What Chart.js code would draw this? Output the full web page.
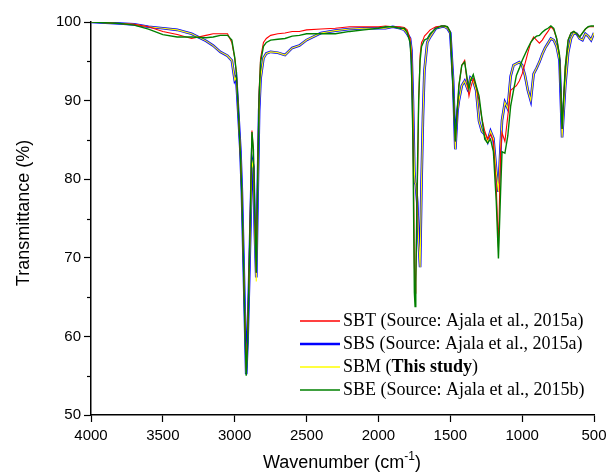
<!DOCTYPE html>
<html>
<head>
<meta charset="utf-8">
<script src="https://cdn.jsdelivr.net/npm/chart.js@4.4.1/dist/chart.umd.min.js"></script>
<style>
  body { margin: 0; background: #fff; }
  #wrap { width: 606px; height: 475px; }
</style>
</head>
<body>
<div id="wrap"><canvas id="ftir" width="606" height="475"></canvas></div>
<script>
// wavenumber grid (cm-1) shared by all four spectra
const wavenumbers = [4000, 3900, 3800, 3700, 3600, 3500, 3400, 3300, 3200, 3150, 3100, 3050, 3020, 3000, 2990, 2980, 2970, 2960, 2950, 2940,
  2930, 2920, 2910, 2900, 2890, 2880, 2870, 2860, 2850, 2840, 2830, 2820, 2800, 2780, 2750, 2700, 2650, 2600, 2550, 2500,
  2400, 2300, 2200, 2100, 2000, 1950, 1900, 1850, 1820, 1800, 1780, 1770, 1760, 1750, 1745, 1740, 1730, 1720, 1710, 1700,
  1690, 1680, 1660, 1640, 1600, 1560, 1540, 1520, 1500, 1480, 1465, 1450, 1440, 1420, 1400, 1380, 1370, 1360, 1340, 1320,
  1300, 1280, 1260, 1240, 1220, 1200, 1180, 1165, 1150, 1140, 1120, 1100, 1080, 1060, 1040, 1020, 1000, 980, 960, 940,
  920, 900, 880, 860, 840, 820, 800, 780, 760, 740, 722, 700, 680, 660, 640, 620, 600, 580, 560, 540, 520, 500];

// transmittance (%)
const sbt = [100.0, 99.9, 99.8, 99.7, 99.4, 98.8, 98.4, 97.9, 98.3, 98.5, 98.5, 98.5, 97.4, 95.4, 93.8, 90.6, 86.8, 82.9, 77.8, 70.1,
  62.3, 55.9, 60.4, 68.8, 77.1, 86.2, 83.5, 74.5, 68.1, 81.0, 91.3, 95.4, 97.4, 97.9, 98.3, 98.5, 98.6, 98.8, 98.8, 99.0,
  99.1, 99.2, 99.4, 99.4, 99.4, 99.5, 99.4, 99.4, 99.3, 99.0, 97.9, 95.8, 87.4, 69.4, 65.5, 67.5, 77.1, 90.0, 95.8, 97.4,
  97.7, 98.2, 98.6, 99.0, 99.4, 99.5, 99.5, 99.4, 98.7, 91.3, 84.8, 88.7, 91.9, 94.5, 95.1, 91.9, 90.6, 91.5, 92.8, 91.8,
  90.0, 87.7, 86.1, 85.1, 85.7, 84.8, 79.0, 71.3, 83.5, 85.9, 84.8, 88.0, 91.3, 91.6, 91.9, 92.5, 93.4, 94.7, 96.1, 97.4,
  98.1, 97.7, 97.3, 97.7, 98.3, 98.8, 99.4, 99.0, 97.9, 95.8, 86.4, 94.3, 97.7, 98.6, 98.8, 98.5, 98.1, 98.6, 99.1, 99.4, 99.4, 99.4];

const sbs = [100.0, 99.9, 99.8, 99.7, 99.4, 99.2, 99.0, 98.5, 97.6, 97.0, 96.2, 95.7, 95.1, 92.6, 93.0, 90.0, 86.8, 83.5, 78.4, 70.7,
  63.0, 55.2, 59.8, 66.8, 74.5, 82.5, 81.6, 73.3, 67.5, 78.4, 88.7, 92.8, 95.4, 96.0, 96.2, 96.1, 95.8, 96.7, 97.0, 97.7,
  98.6, 98.9, 99.1, 99.2, 99.2, 99.2, 99.4, 99.2, 99.0, 98.5, 97.9, 96.4, 90.0, 81.0, 79.5, 79.4, 77.1, 72.0, 68.8, 79.7,
  88.0, 93.8, 97.4, 98.1, 99.2, 99.4, 99.4, 99.2, 98.6, 92.5, 83.8, 88.7, 90.0, 91.9, 92.5, 91.5, 92.0, 92.9, 92.5, 91.3,
  87.4, 86.1, 85.7, 84.8, 86.1, 85.2, 81.0, 78.4, 84.2, 87.5, 89.8, 89.0, 93.1, 94.5, 94.7, 94.9, 94.5, 93.2, 91.3, 90.0,
  93.4, 94.1, 94.9, 95.9, 96.7, 97.3, 97.9, 97.7, 96.9, 95.1, 85.3, 91.9, 96.1, 97.9, 98.6, 98.5, 97.9, 97.7, 98.5, 98.2, 97.7, 98.6];

const sbm = [100.0, 99.9, 99.8, 99.7, 99.4, 99.2, 99.0, 98.5, 97.6, 97.0, 96.2, 95.7, 95.1, 92.6, 93.0, 90.0, 86.8, 83.5, 78.4, 70.7,
  63.0, 55.3, 59.8, 66.8, 74.5, 82.3, 81.4, 73.0, 67.0, 78.4, 88.7, 92.8, 95.4, 96.0, 96.2, 96.1, 95.8, 96.7, 97.0, 97.7,
  98.6, 98.9, 99.1, 99.2, 99.2, 99.2, 99.4, 99.2, 99.0, 98.5, 97.9, 96.4, 90.0, 81.0, 79.5, 79.4, 77.1, 72.0, 68.8, 79.7,
  88.0, 93.8, 97.4, 98.1, 99.2, 99.4, 99.4, 99.2, 98.6, 92.5, 83.8, 88.7, 90.0, 91.9, 92.5, 91.5, 92.0, 92.9, 92.5, 91.3,
  87.4, 86.1, 85.7, 84.8, 86.1, 85.2, 81.0, 78.4, 84.2, 87.5, 89.8, 89.0, 93.1, 94.5, 94.7, 94.9, 94.5, 93.2, 91.3, 90.0,
  93.4, 94.1, 94.9, 95.9, 96.7, 97.3, 97.9, 97.7, 96.9, 95.1, 85.3, 91.9, 96.1, 97.9, 98.6, 98.5, 97.9, 97.7, 98.5, 98.2, 97.7, 98.6];

const sbe = [100.0, 99.9, 99.8, 99.6, 99.1, 98.4, 98.1, 98.1, 98.0, 98.1, 98.3, 98.3, 97.7, 95.5, 93.8, 90.6, 86.8, 82.9, 77.8, 70.1,
  62.0, 55.0, 59.1, 68.1, 76.5, 86.0, 83.8, 75.2, 68.1, 80.3, 90.6, 94.9, 96.9, 97.4, 97.7, 97.8, 97.9, 98.2, 98.3, 98.5,
  98.5, 98.5, 98.8, 99.0, 99.2, 99.4, 99.4, 99.2, 99.2, 98.7, 97.4, 94.5, 84.8, 65.6, 63.8, 66.8, 79.7, 90.0, 95.1, 96.9,
  97.3, 97.7, 97.9, 98.5, 99.2, 99.5, 99.5, 99.4, 98.7, 91.3, 84.8, 89.3, 91.9, 94.5, 94.9, 92.5, 91.5, 92.5, 93.3, 91.9,
  90.6, 87.7, 85.1, 84.6, 85.1, 83.5, 77.1, 69.9, 78.4, 83.5, 83.3, 85.5, 89.3, 91.3, 93.2, 94.1, 95.1, 95.9, 96.7, 97.4,
  97.9, 98.2, 98.3, 98.7, 99.0, 99.2, 99.5, 99.2, 97.9, 95.8, 86.4, 94.3, 97.7, 98.6, 98.8, 98.5, 98.1, 98.6, 99.1, 99.4, 99.5, 99.5];

const seriesNames = ['SBT', 'SBS', 'SBM', 'SBE'];
const seriesSources = ['Source: Ajala et al., 2015a', 'Source: Ajala et al., 2015a', 'This study', 'Source: Ajala et al., 2015b'];
const seriesColors = ['#ff0000', '#0000ff', '#ffff00', '#008000'];
const seriesWidths = [1.1, 2.6, 1.1, 1.4];
const xTicks = [4000, 3500, 3000, 2500, 2000, 1500, 1000, 500];
const yTicks = [50, 60, 70, 80, 90, 100];

function toPoints(vals) {
    return wavenumbers.map((w, i) => ({ x: w, y: vals[i] }));
}

const allValues = [sbt, sbs, sbm, sbe];
// draw order: green on top, then red, yellow, blue at the bottom
const drawOrder = [2, 4, 3, 1];

const datasets = allValues.map((vals, i) => ({
    label: seriesNames[i] + ' (' + seriesSources[i] + ')',
    data: toPoints(vals),
    borderColor: seriesColors[i],
    borderWidth: seriesWidths[i],
    pointRadius: 0,
    tension: 0,
    fill: false,
    order: drawOrder[i]
}));

const extras = {
    id: 'extras',
    afterDraw(chart) {
        const c = chart.ctx;
        const area = chart.chartArea;
        const ys = chart.scales.y;
        c.save();
        // minor ticks on y axis
        c.strokeStyle = '#000';
        c.lineWidth = 1.2;
        for (let v = 55; v < 100; v += 10) {
            const p = Math.round(ys.getPixelForValue(v)) + 0.5;
            c.beginPath();
            c.moveTo(area.left - 4, p);
            c.lineTo(area.left, p);
            c.stroke();
        }

        // legend
        const rows = [321, 344, 367, 390];
        const lf = '18px "Liberation Serif"';
        c.textBaseline = 'middle';
        c.fillStyle = '#000';
        for (let i = 0; i < seriesNames.length; i++) {
            const y = rows[i];
            c.strokeStyle = seriesColors[i];
            c.lineWidth = i === 1 ? 2.5 : 1.5;
            c.beginPath();
            c.moveTo(300, y);
            c.lineTo(340, y);
            c.stroke();
            let x = 343;
            c.font = lf;
            const head = seriesNames[i] + ' (';
            c.fillText(head, x, y);
            x += c.measureText(head).width;
            c.font = (i === 2 ? 'bold ' : '') + lf;
            c.fillText(seriesSources[i], x, y);
            x += c.measureText(seriesSources[i]).width;
            c.font = lf;
            c.fillText(')', x, y);
        }

        // x axis title with superscript
        c.textBaseline = 'alphabetic';
        c.font = '18px "Liberation Sans"';
        const t1 = 'Wavenumber (cm';
        const sup = '-1';
        const t2 = ')';
        const w1 = c.measureText(t1).width;
        const w3 = c.measureText(t2).width;
        c.font = '12px "Liberation Sans"';
        const w2 = c.measureText(sup).width;
        let tx = 342 - (w1 + w2 + w3) / 2;
        c.font = '18px "Liberation Sans"';
        c.fillText(t1, tx, 468);
        c.font = '12px "Liberation Sans"';
        c.fillText(sup, tx + w1, 460);
        c.font = '18px "Liberation Sans"';
        c.fillText(t2, tx + w1 + w2, 468);

        // y axis title
        c.translate(24, 213);
        c.rotate(-Math.PI / 2);
        c.textAlign = 'center';
        c.textBaseline = 'middle';
        c.fillText('Transmittance (%)', 0, 0);
        c.restore();
    }
};

const ctx = document.getElementById('ftir').getContext('2d');
const ftirChart = new Chart(ctx, {
    type: 'line',
    data: { datasets: datasets },
    options: {
        responsive: false,
        animation: false,
        devicePixelRatio: 1,
        layout: { padding: { top: 22, right: 12, left: 0, bottom: 0 } },
        plugins: {
            legend: { display: false },
            tooltip: { enabled: false }
        },
        scales: {
            x: {
                type: 'linear',
                reverse: true,
                min: 500,
                max: 4000,
                afterBuildTicks: (s) => { s.ticks = xTicks.map(v => ({ value: v })); },
                afterFit: (s) => { s.height = 60; s.paddingLeft = 0; s.paddingRight = 0; },
                border: { color: '#000', width: 1.5 },
                grid: { drawOnChartArea: false, drawTicks: true, tickLength: 7, color: '#000', tickWidth: 1.2 },
                ticks: {
                    color: '#000',
                    padding: 5,
                    maxRotation: 0,
                    callback: (v) => String(v),
                    font: { family: 'Liberation Sans', size: 15 }
                }
            },
            y: {
                min: 50,
                max: 100,
                afterBuildTicks: (s) => { s.ticks = yTicks.map(v => ({ value: v })); },
                afterFit: (s) => { s.width = 91; },
                border: { color: '#000', width: 1.5 },
                grid: { drawOnChartArea: false, drawTicks: true, tickLength: 7, color: '#000', tickWidth: 1.2 },
                ticks: {
                    color: '#000',
                    padding: 3,
                    callback: (v) => String(v),
                    font: { family: 'Liberation Sans', size: 15 }
                }
            }
        }
    },
    plugins: [extras]
});
</script>
</body>
</html>
